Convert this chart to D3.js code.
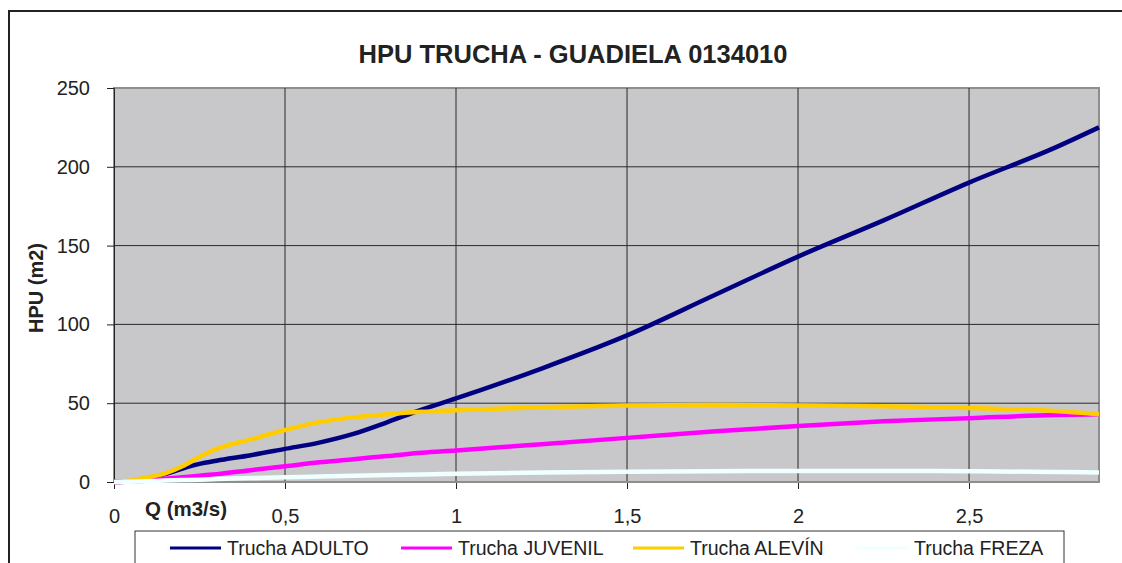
<!DOCTYPE html>
<html>
<head>
<meta charset="utf-8">
<script src="https://cdn.jsdelivr.net/npm/d3@7"></script>
<style>
  body { margin: 0; background: #fff; }
  svg { display: block; font-family: "Liberation Sans", Arial, sans-serif; }
</style>
</head>
<body>
<div id="chart"></div>
<script>
// Caudal (m3/s) y HPU (m2) por estadio
var caudal   = [0, 0.05, 0.1, 0.15, 0.2, 0.25, 0.3, 0.4, 0.5, 0.6, 0.7, 0.8, 0.9, 1.0, 1.25, 1.5, 1.75, 2.0, 2.25, 2.5, 2.75, 2.88];
var adulto   = [0, 0.5, 2.5, 5, 8.5, 11.5, 13.5, 17, 21, 25, 30.5, 38, 46, 53, 72, 93, 118, 143, 166, 190, 212, 225];
var juvenil  = [0, 0.3, 1, 2, 3, 4, 5, 7.5, 10, 12.5, 14.5, 16.5, 18.5, 20, 24, 28, 32, 35.5, 38.5, 40.5, 42.5, 43];
var alevin   = [0, 1, 3, 5.5, 10, 16, 21, 27, 33, 38, 41, 43, 44.5, 45.5, 47.5, 48.5, 48.8, 48.5, 48, 47, 45, 43];
var freza    = [0, 0.2, 0.5, 0.9, 1.2, 1.5, 1.9, 2.5, 3, 3.5, 4, 4.4, 4.8, 5.2, 6, 6.5, 6.8, 7, 7, 6.8, 6.4, 6];

var seriesNames = ["Trucha ADULTO", "Trucha JUVENIL", "Trucha ALEVÍN", "Trucha FREZA"];
var seriesData = [adulto, juvenil, alevin, freza];
var seriesColors = ["#000080", "#ff00ff", "#ffcc00", "#f0ffff"];

var xTicks = [0, 0.5, 1, 1.5, 2, 2.5];
var yTicks = [0, 50, 100, 150, 200, 250];

var width = 1122, height = 563;
var margin = {top: 88, right: 23, bottom: 84, left: 114};

var svg = d3.select("#chart").append("svg")
    .attr("width", width)
    .attr("height", height);

svg.append("rect").attr("width", width).attr("height", height).attr("fill", "#fff");

// marco exterior del grafico
svg.append("path")
    .attr("d", "M9," + height + "V11H" + width)
    .attr("fill", "none")
    .attr("stroke", "#222")
    .attr("stroke-width", 2);

var x = d3.scaleLinear().domain([0, 2.88]).range([margin.left, width - margin.right]);
var y = d3.scaleLinear().domain([0, 250]).range([height - margin.bottom + 3, margin.top]);

var es = d3.formatLocale({decimal: ",", thousands: ".", grouping: [3], currency: ["", "€"]});
var fmt = es.format("~g");

// area de trazado
svg.append("rect")
    .attr("x", x(0)).attr("y", y(250))
    .attr("width", x(2.88) - x(0)).attr("height", y(0) - y(250))
    .attr("fill", "#c8c8ca")
    .attr("stroke", "#8e8e8e")
    .attr("stroke-width", 2);

// rejilla
svg.append("g").selectAll("line").data(xTicks.slice(1)).enter().append("line")
    .attr("x1", d => x(d)).attr("x2", d => x(d))
    .attr("y1", y(0)).attr("y2", y(250))
    .attr("stroke", "#2a2a2a").attr("stroke-width", 1);
svg.append("g").selectAll("line").data(yTicks.slice(1, -1)).enter().append("line")
    .attr("x1", x(0)).attr("x2", x(2.88))
    .attr("y1", d => y(d)).attr("y2", d => y(d))
    .attr("stroke", "#2a2a2a").attr("stroke-width", 1);

// ejes
var yAxis = svg.append("g")
    .attr("transform", "translate(" + x(0) + ",0)")
    .call(d3.axisLeft(y).tickValues(yTicks).tickSize(7).tickPadding(17).tickFormat(fmt));
var xAxis = svg.append("g")
    .attr("transform", "translate(0," + y(0) + ")")
    .call(d3.axisBottom(x).tickValues(xTicks).tickSize(7).tickPadding(20).tickFormat(fmt));

[yAxis, xAxis].forEach(function (g) {
    g.select(".domain").attr("stroke", "#222").attr("stroke-width", 1);
    g.selectAll(".tick line").attr("stroke", "#222");
    g.selectAll("text").attr("fill", "#222").style("font-size", "20px").style("font-family", "Liberation Sans, Arial, sans-serif");
});
xAxis.select(".domain").remove();
svg.append("line")
    .attr("x1", x(0)).attr("x2", x(2.88)).attr("y1", y(0)).attr("y2", y(0))
    .attr("stroke", "#8e8e8e").attr("stroke-width", 2);

// series
var line = d3.line()
    .x((d, i) => x(caudal[i]))
    .y(d => y(d))
    .curve(d3.curveMonotoneX);

svg.append("g").selectAll("path").data(seriesData).enter().append("path")
    .attr("d", line)
    .attr("fill", "none")
    .attr("stroke", (d, i) => seriesColors[i])
    .attr("stroke-width", 4.5)
    .attr("stroke-linejoin", "round");

// titulos
svg.append("text")
    .attr("x", 573).attr("y", 63)
    .attr("text-anchor", "middle")
    .style("font-size", "25.5px").style("font-weight", "bold").attr("fill", "#222")
    .text("HPU TRUCHA - GUADIELA 0134010");

svg.append("text")
    .attr("transform", "translate(43,288) rotate(-90)")
    .attr("text-anchor", "middle")
    .style("font-size", "20px").style("font-weight", "bold").attr("fill", "#222")
    .text("HPU (m2)");

svg.append("text")
    .attr("x", 145).attr("y", 516)
    .style("font-size", "20.5px").style("font-weight", "bold").attr("fill", "#222")
    .text("Q (m3/s)");

// leyenda
var legend = svg.append("g");
legend.append("rect")
    .attr("x", 135).attr("y", 531).attr("width", 929).attr("height", 50)
    .attr("fill", "#fff").attr("stroke", "#333").attr("stroke-width", 1);

var legendX = [170, 401, 633, 857];
var item = legend.selectAll("g.item").data(seriesNames).enter().append("g")
    .attr("class", "item")
    .attr("transform", (d, i) => "translate(" + legendX[i] + ",548)");
item.append("line")
    .attr("x1", 0).attr("x2", 51).attr("y1", 0).attr("y2", 0)
    .attr("stroke", (d, i) => seriesColors[i]).attr("stroke-width", 3);
item.append("text")
    .attr("x", 57).attr("y", 7)
    .style("font-size", "19.5px").attr("fill", "#222")
    .text(d => d);
</script>
</body>
</html>
